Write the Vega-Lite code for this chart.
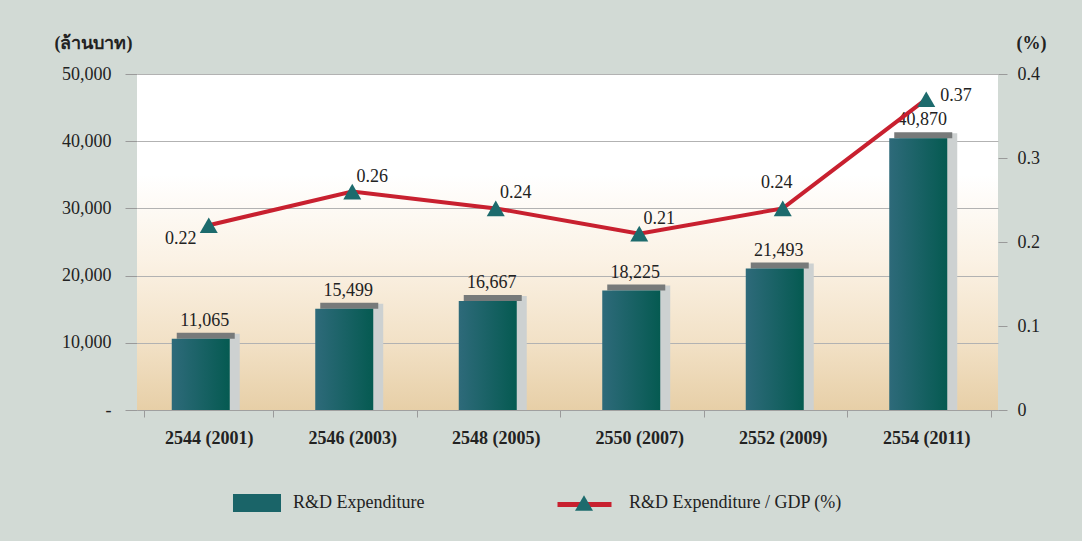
{
  "$schema": "https://vega.github.io/schema/vega-lite/v6.json",
  "width": 861,
  "height": 336,
  "autosize": "none",
  "padding": {"left": 137, "top": 74, "right": 84, "bottom": 131},
  "background": "#d2dad5",
  "config": {
    "view": {
      "stroke": null,
      "fill": {"gradient": "linear", "x1": 0, "y1": 0, "x2": 0, "y2": 1,
        "stops": [
          {"offset": 0, "color": "#ffffff"},
          {"offset": 0.3, "color": "#ffffff"},
          {"offset": 0.55, "color": "#fbf2e5"},
          {"offset": 0.8, "color": "#f2e1c6"},
          {"offset": 1, "color": "#e7cfa7"}
        ]}
    },
    "font": "Times New Roman, Liberation Serif, serif",
    "text": {"font": "Times New Roman, Liberation Serif, serif", "fontSize": 18, "color": "#222222"},
    "axis": {"labelFont": "Times New Roman, Liberation Serif, serif", "titleFont": "Times New Roman, Liberation Serif, serif", "labelFontSize": 18, "labelColor": "#222222", "titleColor": "#222222", "tickColor": "#9a9a9a", "domainColor": "#9a9a9a"},
    "legend": {"labelFont": "Times New Roman, Liberation Serif, serif", "labelFontSize": 18, "labelColor": "#222222", "labelLimit": 400}
  },
  "data": {"values": [
    {"year": "2544 (2001)", "rd": 11065, "pct": 0.22},
    {"year": "2546 (2003)", "rd": 15499, "pct": 0.26},
    {"year": "2548 (2005)", "rd": 16667, "pct": 0.24},
    {"year": "2550 (2007)", "rd": 18225, "pct": 0.21},
    {"year": "2552 (2009)", "rd": 21493, "pct": 0.24},
    {"year": "2554 (2011)", "rd": 40870, "pct": 0.37}
  ]},
  "encoding": {
    "x": {"field": "year", "type": "nominal", "sort": null,
      "axis": {"title": null, "labelAngle": 0, "labelFontWeight": "bold", "labelPadding": 12, "tickBand": "extent", "tickSize": 7, "domainColor": "#a0a0a0"}}
  },
  "layer": [
    {
      "encoding": {
        "y": {"field": "rd", "type": "quantitative", "scale": {"domain": [0, 50000]},
          "axis": {"values": [0, 10000, 20000, 30000, 40000, 50000],
            "labelExpr": "datum.value == 0 ? '-' : format(datum.value, ',')",
            "grid": true, "gridColor": "#b2b2b2", "domain": false, "tickSize": 12, "labelPadding": 14,
            "title": "(ล้านบาท)", "titleAngle": 0, "titleAlign": "center", "titleBaseline": "middle",
            "titleX": -44, "titleY": -31, "titleFontSize": 18, "titleFontWeight": "bold"}}
      },
      "layer": [
        {"mark": {"type": "bar", "width": 58, "xOffset": 2, "yOffset": -2, "color": "#cdd1d1"},
         "encoding": {"y2": {"datum": 0}}},
        {"mark": {"type": "bar", "width": 58, "xOffset": -3, "yOffset": -3, "y2Offset": 3, "color": "#777a7a"},
         "encoding": {"y2": {"field": "rd"}}},
        {"mark": {"type": "bar", "width": 58, "xOffset": -8, "yOffset": 3,
          "color": {"gradient": "linear", "x1": 0, "y1": 0, "x2": 1, "y2": 0,
            "stops": [{"offset": 0, "color": "#2e6a7a"}, {"offset": 1, "color": "#055a51"}]}},
         "encoding": {"y2": {"datum": 0}}},
        {"mark": {"type": "bar", "width": 1, "opacity": 1},
         "encoding": {
           "y": {"datum": 0}, "y2": {"datum": 0},
           "fill": {"datum": "R&D Expenditure", "type": "nominal", "scale": {"range": ["#1a6468"]},
             "legend": {"orient": "none", "legendX": 111, "legendY": 420, "title": null,
               "symbolType": "M-2.667,-1H2.667V1H-2.667Z", "symbolSize": 324, "symbolStrokeWidth": 0,
               "labelOffset": 27}}
         }},
        {"mark": {"type": "text", "baseline": "bottom", "dx": -4, "dy": -6},
         "encoding": {"text": {"field": "rd", "type": "quantitative", "format": ","}}}
      ]
    },
    {
      "encoding": {
        "y": {"field": "pct", "type": "quantitative", "scale": {"domain": [0, 0.4]},
          "axis": {"orient": "right", "values": [0, 0.1, 0.2, 0.3, 0.4],
            "labelExpr": "datum.value == 0 ? '0' : format(datum.value, '.1f')",
            "grid": false, "domain": false, "tickSize": 9, "labelPadding": 10,
            "title": "(%)", "titleAngle": 0, "titleAlign": "center", "titleBaseline": "middle",
            "titleX": 33, "titleY": -31, "titleFontSize": 18, "titleFontWeight": "bold"}}
      },
      "layer": [
        {"mark": {"type": "line", "strokeWidth": 4},
         "encoding": {"stroke": {"datum": "line", "type": "nominal", "scale": {"range": ["#c8202f"]},
           "legend": {"orient": "none", "legendX": 418, "legendY": 401, "title": null, "symbolType": "stroke",
             "symbolSize": 2916, "symbolStrokeWidth": 5, "labelExpr": "''"}}}},
        {"mark": {"type": "point", "filled": true, "color": "#1d6b6d", "size": 324, "opacity": 1},
         "encoding": {"shape": {"datum": "R&D Expenditure / GDP (%)", "type": "nominal", "scale": {"range": ["triangle-up"]},
           "legend": {"orient": "none", "legendX": 438, "legendY": 420, "title": null, "symbolSize": 324,
             "symbolFillColor": "#1d6b6d", "symbolStrokeWidth": 0, "labelOffset": 36}}}},
        {"transform": [{"filter": "datum.year == '2544 (2001)'"}],
         "mark": {"type": "text", "dx": -28, "dy": 14},
         "encoding": {"text": {"field": "pct", "type": "quantitative", "format": ".2f"}}},
        {"transform": [{"filter": "datum.year == '2546 (2003)' || datum.year == '2548 (2005)' || datum.year == '2550 (2007)'"}],
         "mark": {"type": "text", "dx": 20, "dy": -15},
         "encoding": {"text": {"field": "pct", "type": "quantitative", "format": ".2f"}}},
        {"transform": [{"filter": "datum.year == '2552 (2009)'"}],
         "mark": {"type": "text", "dx": -6, "dy": -25},
         "encoding": {"text": {"field": "pct", "type": "quantitative", "format": ".2f"}}},
        {"transform": [{"filter": "datum.year == '2554 (2011)'"}],
         "mark": {"type": "text", "align": "left", "dx": 14, "dy": -3},
         "encoding": {"text": {"field": "pct", "type": "quantitative", "format": ".2f"}}}
      ]
    }
  ],
  "resolve": {"scale": {"y": "independent"}}
}
